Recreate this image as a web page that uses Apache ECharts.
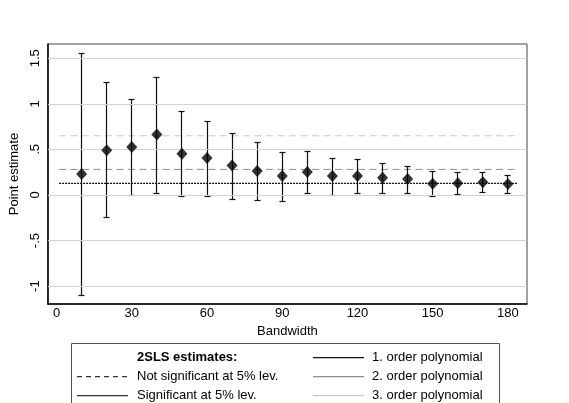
<!DOCTYPE html>
<html>
<head>
<meta charset="utf-8">
<script src="https://cdn.jsdelivr.net/npm/echarts@6/dist/echarts.min.js"></script>
<style>html,body{margin:0;padding:0;background:#fff;}#c{width:569px;height:403px;}</style>
</head>
<body>
<div id="c"></div>
<script>
// Bandwidths (x) and 2SLS point estimates with 95% CI bounds
const bandwidths = [10, 20, 30, 40, 50, 60, 70, 80, 90, 100, 110, 120, 130, 140, 150, 160, 170, 180];
const estimates  = [0.23, 0.49, 0.526, 0.665, 0.453, 0.406, 0.325, 0.263, 0.208, 0.252, 0.208, 0.208, 0.19, 0.175, 0.124, 0.128, 0.139, 0.12];
const upperCI    = [1.56, 1.236, 1.053, 1.30, 0.917, 0.815, 0.683, 0.578, 0.475, 0.486, 0.41, 0.395, 0.351, 0.32, 0.26, 0.249, 0.249, 0.223];
const lowerCI    = [-1.10, -0.245, 0.0, 0.025, -0.008, -0.008, -0.04, -0.055, -0.066, 0.022, 0.0, 0.022, 0.022, 0.022, -0.008, 0.008, 0.03, 0.018];

// Polynomial-order estimates (horizontal reference lines)
const polyNames     = ['1. order polynomial', '2. order polynomial', '3. order polynomial'];
const polyEstimates = [0.128, 0.281, 0.65];
const polySignificant = [true, false, false];
const polySpan = [1, 184];

// Axis ticks
const xTicks = [0, 30, 60, 90, 120, 150, 180];
const yTicks = [-1, -0.5, 0, 0.5, 1, 1.5];

const FONT = 'Liberation Sans, Arial, Helvetica, sans-serif';
const polyColors = ['#111111', '#8f8f8f', '#c9c9c9'];

function fmtY(v) {
  let s = String(v);
  s = s.replace(/^0\./, '.').replace(/^-0\./, '-.');
  return s;
}

const ciData = bandwidths.map((b, i) => [b, lowerCI[i], upperCI[i]]);
const ptData = bandwidths.map((b, i) => [b, estimates[i]]);

const series = [];

// grid lines
series.push({
  type: 'line', data: [], silent: true,
  markLine: {
    silent: true, symbol: 'none', label: { show: false },
    lineStyle: { color: '#d2d2d2', width: 1, type: 'solid' },
    data: yTicks.map(v => ({ yAxis: v }))
  }
});

// polynomial estimate lines
polyEstimates.forEach((v, i) => {
  series.push({
    type: 'line', name: polyNames[i], silent: true, symbol: 'none',
    data: [[polySpan[0], v], [polySpan[1], v]],
    lineStyle: {
      color: polyColors[i],
      width: i === 0 ? 1.3 : 1,
      type: polySignificant[i] ? (i === 0 ? [2, 1] : 'solid') : [7, 4.5]
    },
    z: 3
  });
});

// error bars
series.push({
  type: 'custom', silent: true, z: 4,
  data: ciData,
  renderItem: function (params, api) {
    const x = api.value(0);
    const lo = api.coord([x, api.value(1)]);
    const hi = api.coord([x, api.value(2)]);
    const cx = Math.round(lo[0] - 0.5) + 0.5;
    const ylo = Math.round(lo[1]) + 0.5;
    const yhi = Math.round(hi[1]) + 0.5;
    const hw = 3;
    const st = { stroke: '#111', lineWidth: 1.2 };
    return {
      type: 'group',
      children: [
        { type: 'line', shape: { x1: cx, y1: ylo, x2: cx, y2: yhi }, style: st },
        { type: 'line', shape: { x1: cx - hw, y1: ylo, x2: cx + hw, y2: ylo }, style: st },
        { type: 'line', shape: { x1: cx - hw, y1: yhi, x2: cx + hw, y2: yhi }, style: st }
      ]
    };
  }
});

// point estimates
series.push({
  type: 'scatter', data: ptData, symbol: 'diamond', symbolSize: [11, 12],
  itemStyle: { color: '#000' }, z: 5, silent: true
});

// legend drawn as graphics
const L = { left: 71, top: 343, right: 499 };
const rows = [357.7, 376.7, 395.7];
const graphic = [
  { type: 'rect', shape: { x: L.left + 0.5, y: L.top + 0.5, width: L.right - L.left, height: 80 },
    style: { fill: '#fff', stroke: '#555', lineWidth: 1 }, z: 10 },
  { type: 'text', x: 137, y: rows[0], style: { text: '2SLS estimates:', font: 'bold 13px ' + FONT, fill: '#000', verticalAlign: 'middle' }, z: 11 },
  { type: 'line', shape: { x1: 77, y1: rows[1], x2: 128, y2: rows[1] }, style: { stroke: '#000', lineWidth: 1, lineDash: [5, 4] }, z: 11 },
  { type: 'text', x: 137, y: rows[1], style: { text: 'Not significant at 5% lev.', font: '13px ' + FONT, fill: '#000', verticalAlign: 'middle' }, z: 11 },
  { type: 'line', shape: { x1: 77, y1: rows[2], x2: 128, y2: rows[2] }, style: { stroke: '#333', lineWidth: 1.2 }, z: 11 },
  { type: 'text', x: 137, y: rows[2], style: { text: 'Significant at 5% lev.', font: '13px ' + FONT, fill: '#000', verticalAlign: 'middle' }, z: 11 }
];
polyNames.forEach((n, i) => {
  graphic.push({ type: 'line', shape: { x1: 313, y1: rows[i], x2: 364, y2: rows[i] }, style: { stroke: polyColors[i], lineWidth: 1.2 }, z: 11 });
  graphic.push({ type: 'text', x: 372, y: rows[i], style: { text: n, font: '13px ' + FONT, fill: '#000', verticalAlign: 'middle' }, z: 11 });
});

const chart = echarts.init(document.getElementById('c'), null, { renderer: 'canvas' });
chart.setOption({
  animation: false,
  backgroundColor: '#fff',
  textStyle: { fontFamily: FONT },
  grid: { left: 44, top: 44, right: 42, bottom: 99, show: true, borderColor: '#444', borderWidth: 1, backgroundColor: '#fff' },
  xAxis: {
    type: 'value', min: -3.45, max: 187.6,
    name: 'Bandwidth', nameLocation: 'middle', nameGap: 17,
    nameTextStyle: { fontSize: 13, color: '#000', fontFamily: FONT },
    axisLine: { show: true, onZero: false, lineStyle: { color: '#000', width: 1.5 } },
    axisTick: { show: false },
    splitLine: { show: false },
    axisLabel: { customValues: xTicks, fontSize: 13, color: '#000', margin: 3, fontFamily: FONT }
  },
  yAxis: {
    type: 'value', min: -1.196, max: 1.657,
    name: 'Point estimate', nameLocation: 'middle', nameGap: 23, nameRotate: 90,
    nameTextStyle: { fontSize: 13, color: '#000', fontFamily: FONT },
    axisLine: { show: true, onZero: false, lineStyle: { color: '#000', width: 1.5 } },
    axisTick: { show: false },
    splitLine: { show: false },
    axisLabel: { customValues: yTicks, rotate: 90, fontSize: 13, color: '#000', margin: 6, fontFamily: FONT, formatter: fmtY }
  },
  series: series,
  graphic: graphic
});
</script>
</body>
</html>
